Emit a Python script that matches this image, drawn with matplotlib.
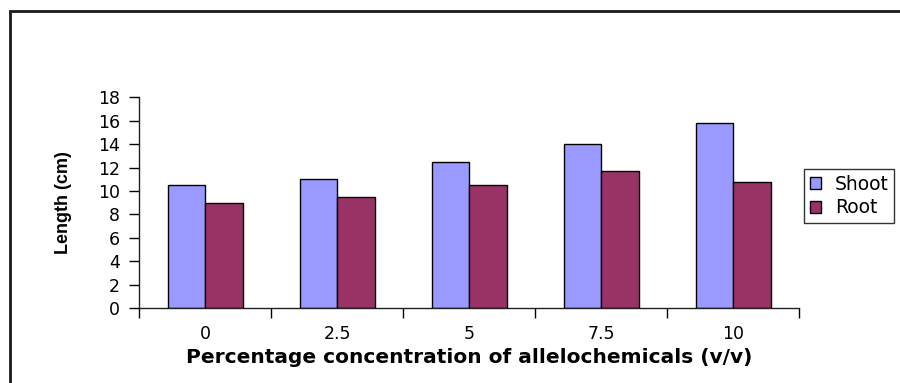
import matplotlib
matplotlib.use("Agg")
import matplotlib.pyplot as plt
from matplotlib.patches import Rectangle
import numpy as np

concentrations = ["0", "2.5", "5", "7.5", "10"]
shoot = [10.5, 11.0, 12.5, 14.0, 15.8]
root = [9.0, 9.5, 10.5, 11.7, 10.8]

shoot_color = "#9999FF"
root_color = "#993366"

fig = plt.figure(figsize=(9, 3.83), dpi=100)
ax = fig.add_axes([0.1548, 0.1958, 0.7333, 0.5502])

x = np.arange(len(concentrations))
w = 0.284
ax.bar(x - w / 2, shoot, w, color=shoot_color, edgecolor="black", linewidth=1, label="Shoot", zorder=2)
ax.bar(x + w / 2, root, w, color=root_color, edgecolor="black", linewidth=1, label="Root", zorder=2)

ax.set_xlim(-0.5, len(concentrations) - 0.5)
ax.set_ylim(0, 18)
ax.set_yticks(range(0, 19, 2))

# tick marks sit between categories, labels at the centres
ax.set_xticks(np.arange(-0.5, len(concentrations), 1.0))
ax.set_xticklabels([])
ax.set_xticks(x, minor=True)
ax.set_xticklabels(concentrations, minor=True)
ax.tick_params(axis="x", which="major", direction="out", length=7, width=1)
ax.tick_params(axis="x", which="minor", length=0, pad=12, labelsize=12.5)
ax.tick_params(axis="y", direction="out", length=7, width=1, pad=7, labelsize=12.5)

for side in ["top", "right"]:
    ax.spines[side].set_visible(False)
for side in ["left", "bottom"]:
    ax.spines[side].set_color("#202020")
    ax.spines[side].set_linewidth(1)

for lbl in ax.get_xticklabels(minor=True) + ax.get_yticklabels():
    lbl.set_family("DejaVu Sans")

ax.set_ylabel("Length (cm)", fontsize=13, fontweight="bold", family="Liberation Sans")
ax.yaxis.set_label_coords(-0.102, 0.5)
ax.set_xlabel("Percentage concentration of allelochemicals (v/v)", fontsize=14.5,
              fontweight="bold", family="DejaVu Sans", labelpad=4)

leg = fig.legend(loc="upper left", bbox_to_anchor=(804 / 900, 1 - 169 / 383),
                 bbox_transform=fig.transFigure, frameon=True, fancybox=False,
                 borderaxespad=0, prop={"family": "DejaVu Sans", "size": 13.5},
                 handlelength=0.6, handleheight=0.6, handletextpad=0.75,
                 borderpad=0.3, labelspacing=0.25)
leg.get_frame().set_edgecolor("black")
leg.get_frame().set_linewidth(1)

# outer chart border, running off the right and bottom edges
fig.patches.append(Rectangle((10 / 900, -0.1), 1.2, 1.1 - 11 / 383,
                             transform=fig.transFigure, fill=False,
                             edgecolor="#1a1a1a", linewidth=2))

fig.savefig("out.png", dpi=100)
